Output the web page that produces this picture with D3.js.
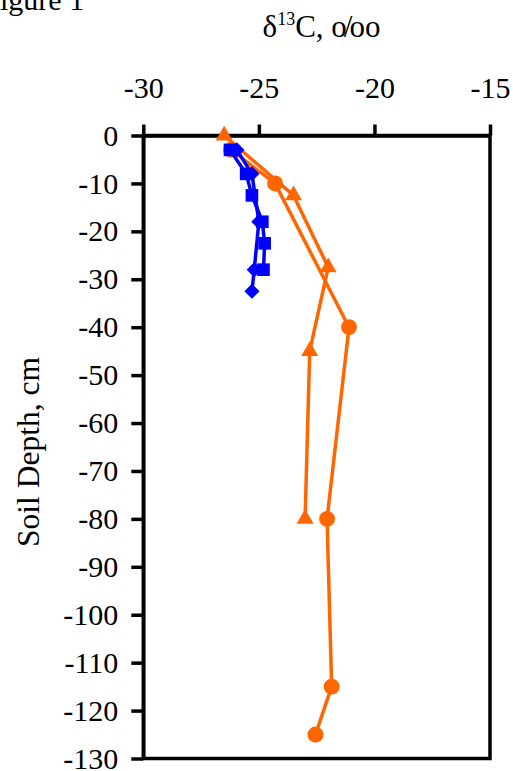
<!DOCTYPE html>
<html>
<head>
<meta charset="utf-8">
<script src="https://cdn.jsdelivr.net/npm/d3@7"></script>
<style>
  html, body { margin: 0; padding: 0; background: #fff; }
  svg { display: block; }
  text { font-family: "Liberation Serif", "Times New Roman", serif; fill: #000; }
</style>
</head>
<body>
<script>
// ---- data ----
const xTicks = [-30, -25, -20, -15];
const yTicks = [0, -10, -20, -30, -40, -50, -60, -70, -80, -90, -100, -110, -120, -130];

// blue diamonds
const diamondX = [-25.95, -25.3, -25.0, -25.2, -25.3];
const diamondY = [-3, -8, -18, -28, -32.5];
// blue squares
const squareX = [-26.25, -25.55, -25.3, -24.85, -24.75, -24.8];
const squareY = [-3, -8, -12.5, -18, -22.5, -28];
// orange triangles
const triX = [-26.5, -23.5, -22.0, -22.8, -23.0];
const triY = [0, -12.5, -27.5, -45, -80];
// orange circles
const circX = [-26.2, -24.3, -21.1, -22.05, -21.85, -22.55];
const circY = [-3, -10, -40, -80, -115, -125];

const W = 513, H = 771;
const svg = d3.select("body").append("svg").attr("width", W).attr("height", H);

const x = d3.scaleLinear().domain([-30, -15]).range([143.3, 490]);
const y = d3.scaleLinear().domain([0, -130]).range([135.5, 758.5]);

// frame (right & bottom)
svg.append("rect")
  .attr("x", x(-30)).attr("y", y(0))
  .attr("width", x(-15) - x(-30)).attr("height", y(-130) - y(0))
  .attr("fill", "none").attr("stroke", "#000").attr("stroke-width", 3.5);

// top axis
const gx = svg.append("g").attr("transform", `translate(0,${y(0)})`)
  .call(d3.axisTop(x).tickValues(xTicks).tickSizeInner(11).tickSizeOuter(0).tickPadding(27).tickFormat(d => d));
gx.select(".domain").attr("stroke-width", 3.5);
gx.selectAll(".tick line").attr("stroke-width", 3.5);
gx.selectAll(".tick text").attr("font-size", 30).attr("font-family", "Liberation Serif");

// left axis
const gy = svg.append("g").attr("transform", `translate(${x(-30)},0)`)
  .call(d3.axisLeft(y).tickValues(yTicks).tickSizeInner(12).tickSizeOuter(0).tickPadding(13).tickFormat(d => d));
gy.select(".domain").attr("stroke-width", 3.5);
gy.selectAll(".tick line").attr("stroke-width", 3.5);
gy.selectAll(".tick text").attr("font-size", 30).attr("font-family", "Liberation Serif");

// series
const ORANGE = "#FF6600", BLUE = "#0000FF";
function drawSeries(xs, ys, color, symbol, size, rot) {
  const pts = xs.map((v, i) => [v, ys[i]]);
  svg.append("path")
    .attr("d", d3.line().x(d => x(d[0])).y(d => y(d[1]))(pts))
    .attr("fill", "none").attr("stroke", color).attr("stroke-width", 3.5)
    .attr("stroke-linejoin", "round");
  svg.append("g").selectAll("path").data(pts).join("path")
    .attr("d", d3.symbol().type(symbol).size(size)())
    .attr("transform", d => `translate(${x(d[0])},${y(d[1])}) rotate(${rot})`)
    .attr("fill", color);
}
drawSeries(triX, triY, ORANGE, d3.symbolTriangle, 125, 0);
drawSeries(circX, circY, ORANGE, d3.symbolCircle, 200, 0);
drawSeries(squareX, squareY, BLUE, d3.symbolSquare, 160, 0);
drawSeries(diamondX, diamondY, BLUE, d3.symbolSquare, 115, 45);

// titles
svg.append("text").attr("x", -16.7).attr("y", 10).attr("font-size", 30).text("Figure 1");

const t = svg.append("text").attr("x", 321.5).attr("y", 37).attr("font-size", 31).attr("text-anchor", "middle");
t.append("tspan").text("δ");
t.append("tspan").attr("font-size", 18).attr("dy", -12).text("13");
t.append("tspan").attr("dy", 12).text("C, ");
t.append("tspan").attr("letter-spacing", -3).text("o/");
t.append("tspan").text("oo");

svg.append("text")
  .attr("transform", "translate(39,452) rotate(-90)")
  .attr("text-anchor", "middle").attr("font-size", 31.5)
  .text("Soil Depth, cm");
</script>
</body>
</html>
